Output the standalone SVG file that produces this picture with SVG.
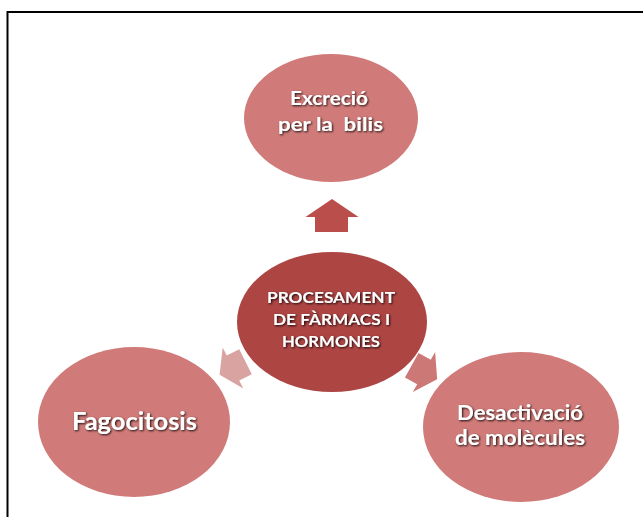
<svg xmlns="http://www.w3.org/2000/svg" width="643" height="517" viewBox="0 0 643 517">
<style>
.lbl{font-family:Lato,"Open Sans","Liberation Sans",sans-serif;font-weight:bold;fill:#ffffff;text-anchor:middle;filter:url(#sh)}
.outer{fill:#D07B79}
</style>
<defs>
<filter id="sh" x="-20%" y="-40%" width="140%" height="180%">
<feGaussianBlur in="SourceAlpha" stdDeviation="1.2" result="b"/>
<feOffset in="b" dx="1" dy="1.2" result="o"/>
<feComponentTransfer in="o" result="s"><feFuncA type="linear" slope="0.9"/></feComponentTransfer>
<feMerge><feMergeNode in="s"/><feMergeNode in="SourceGraphic"/></feMerge>
</filter>
<path id="arr" d="M0,-15 L23,0 L14,0 L14,14 L-14,14 L-14,0 L-23,0 Z"/>
</defs>
<rect width="643" height="517" fill="#ffffff"/>
<path d="M7.5,517 V12 H643" fill="none" stroke="#000000" stroke-width="2"/>
<g id="connectors">
<path d="M332,199 L358.5,217 L348,217 L348,232 L315,232 L315,217 L305.5,217 Z" fill="#B94E4A"/>
<use href="#arr" transform="translate(233,368) rotate(-116.6)" fill="#D9A3A2"/>
<use href="#arr" transform="translate(424,372) rotate(119)" fill="#CB7876"/>
</g>
<g id="node-excrecio">
<ellipse class="outer" cx="331" cy="118" rx="87" ry="64"/>
<text class="lbl" x="329" y="105" font-size="19" textLength="78" lengthAdjust="spacingAndGlyphs">Excreció</text>
<text class="lbl" x="330.5" y="131" font-size="19" textLength="105" lengthAdjust="spacingAndGlyphs" xml:space="preserve">per la  bilis</text>
</g>
<g id="node-center">
<ellipse cx="332" cy="322" rx="95" ry="70" fill="#AD4543"/>
<text class="lbl" x="331" y="303" font-size="15" textLength="128" lengthAdjust="spacingAndGlyphs">PROCESAMENT</text>
<text class="lbl" x="331.5" y="325" font-size="15" textLength="117" lengthAdjust="spacingAndGlyphs">DE FÀRMACS I</text>
<text class="lbl" x="331" y="347" font-size="15" textLength="98" lengthAdjust="spacingAndGlyphs">HORMONES</text>
</g>
<g id="node-fagocitosis">
<ellipse class="outer" cx="134" cy="422" rx="96" ry="75"/>
<text class="lbl" x="134.5" y="430" font-size="25" textLength="125" lengthAdjust="spacingAndGlyphs">Fagocitosis</text>
</g>
<g id="node-desactivacio">
<ellipse class="outer" cx="521" cy="427" rx="98" ry="75"/>
<text class="lbl" x="520" y="420" font-size="20" textLength="126" lengthAdjust="spacingAndGlyphs">Desactivació</text>
<text class="lbl" x="520" y="445" font-size="20" textLength="130" lengthAdjust="spacingAndGlyphs">de molècules</text>
</g>
</svg>
